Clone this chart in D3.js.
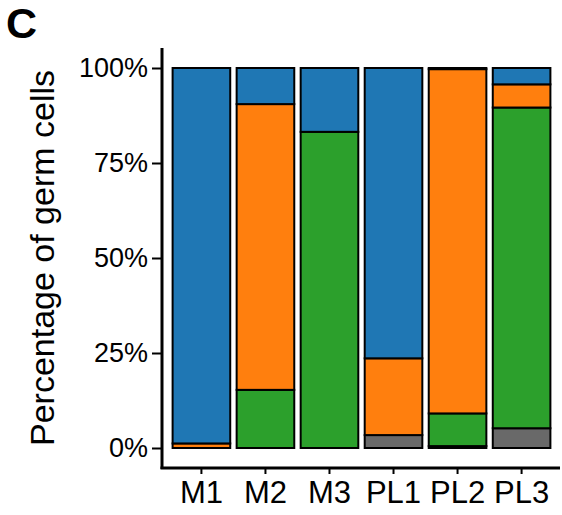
<!DOCTYPE html>
<html>
<head>
<meta charset="utf-8">
<script src="https://cdn.jsdelivr.net/npm/d3@7"></script>
<style>
  html, body { margin: 0; padding: 0; background: #fff; }
  svg { display: block; font-family: "Liberation Sans", Arial, Helvetica, sans-serif; }
</style>
</head>
<body>
<svg id="chart" width="562" height="515"></svg>
<script>
// Samples along the x axis
const categories = ["M1", "M2", "M3", "PL1", "PL2", "PL3"];

// Percentage of germ cells per cell type, stacked from the bottom up
const greyShare   = [0,    0,    0,    3.4,  0.5,  5.2];
const greenShare  = [0,    15.3, 83.2, 0,    8.6,  84.4];
const orangeShare = [1.2,  75.2, 0,    20.2, 90.6, 6.1];
const blueShare   = [98.8, 9.5,  16.8, 76.4, 0.3,  4.3];

const seriesKeys   = ["grey", "green", "orange", "blue"];
const seriesColors = ["#696969", "#2ca02c", "#ff7f0e", "#1f77b4"];

const yTicks = [0, 0.25, 0.5, 0.75, 1];
const yTickLabels = ["0%", "25%", "50%", "75%", "100%"];

const rows = categories.map((c, i) => ({
  sample: c,
  grey: greyShare[i] / 100,
  green: greenShare[i] / 100,
  orange: orangeShare[i] / 100,
  blue: blueShare[i] / 100
}));

const svg = d3.select("#chart");
const panel = { left: 163, right: 560, top: 49, bottom: 467 };

const x = d3.scaleBand()
  .domain(categories)
  .range([panel.left, panel.right])
  .paddingInner(0.1)
  .paddingOuter(0.15);

const y = d3.scaleLinear()
  .domain([-0.05, 1.05])
  .range([panel.bottom, panel.top]);

const color = d3.scaleOrdinal().domain(seriesKeys).range(seriesColors);

const stacked = d3.stack().keys(seriesKeys)(rows);

// Stacked bars
svg.append("g")
  .selectAll("g")
  .data(stacked)
  .join("g")
  .attr("fill", d => color(d.key))
  .selectAll("rect")
  .data(d => d.filter(s => s[1] - s[0] > 0))
  .join("rect")
  .attr("x", d => x(d.data.sample))
  .attr("width", x.bandwidth())
  .attr("y", d => y(d[1]))
  .attr("height", d => y(d[0]) - y(d[1]))
  .attr("stroke", "#000")
  .attr("stroke-width", 2);

// Y axis
const yAxis = svg.append("g")
  .attr("transform", `translate(${panel.left - 1},0)`)
  .call(d3.axisLeft(y)
    .tickValues(yTicks)
    .tickFormat((d, i) => yTickLabels[i])
    .tickSize(10)
    .tickPadding(4));
yAxis.select(".domain").remove();
yAxis.selectAll(".tick line").attr("stroke", "#000").attr("stroke-width", 2);
yAxis.selectAll(".tick text")
  .attr("fill", "#000")
  .style("font-size", "27px")
  .attr("font-family", "Liberation Sans, Arial, sans-serif");

// X axis
const xAxis = svg.append("g")
  .attr("transform", `translate(0,${panel.bottom + 1})`)
  .call(d3.axisBottom(x).tickSize(6).tickPadding(7));
xAxis.select(".domain").remove();
xAxis.selectAll(".tick line").attr("stroke", "#000").attr("stroke-width", 2);
xAxis.selectAll(".tick text")
  .attr("fill", "#000")
  .style("font-size", "31px")
  .attr("font-family", "Liberation Sans, Arial, sans-serif");

// Axis lines
svg.append("line")
  .attr("x1", panel.left - 1).attr("x2", panel.left - 1)
  .attr("y1", panel.top - 1).attr("y2", panel.bottom + 2)
  .attr("stroke", "#000").attr("stroke-width", 3);
svg.append("line")
  .attr("x1", panel.left - 2.5).attr("x2", panel.right)
  .attr("y1", panel.bottom + 1).attr("y2", panel.bottom + 1)
  .attr("stroke", "#000").attr("stroke-width", 3);

// Y axis title
svg.append("text")
  .attr("transform", `translate(54,${(panel.top + panel.bottom) / 2}) rotate(-90)`)
  .attr("text-anchor", "middle")
  .style("font-size", "34px")
  .attr("fill", "#000")
  .text("Percentage of germ cells");

// Panel letter
svg.append("text")
  .attr("x", 6)
  .attr("y", 38)
  .style("font-size", "43px")
  .style("font-weight", "bold")
  .attr("fill", "#000")
  .text("C");
</script>
</body>
</html>
